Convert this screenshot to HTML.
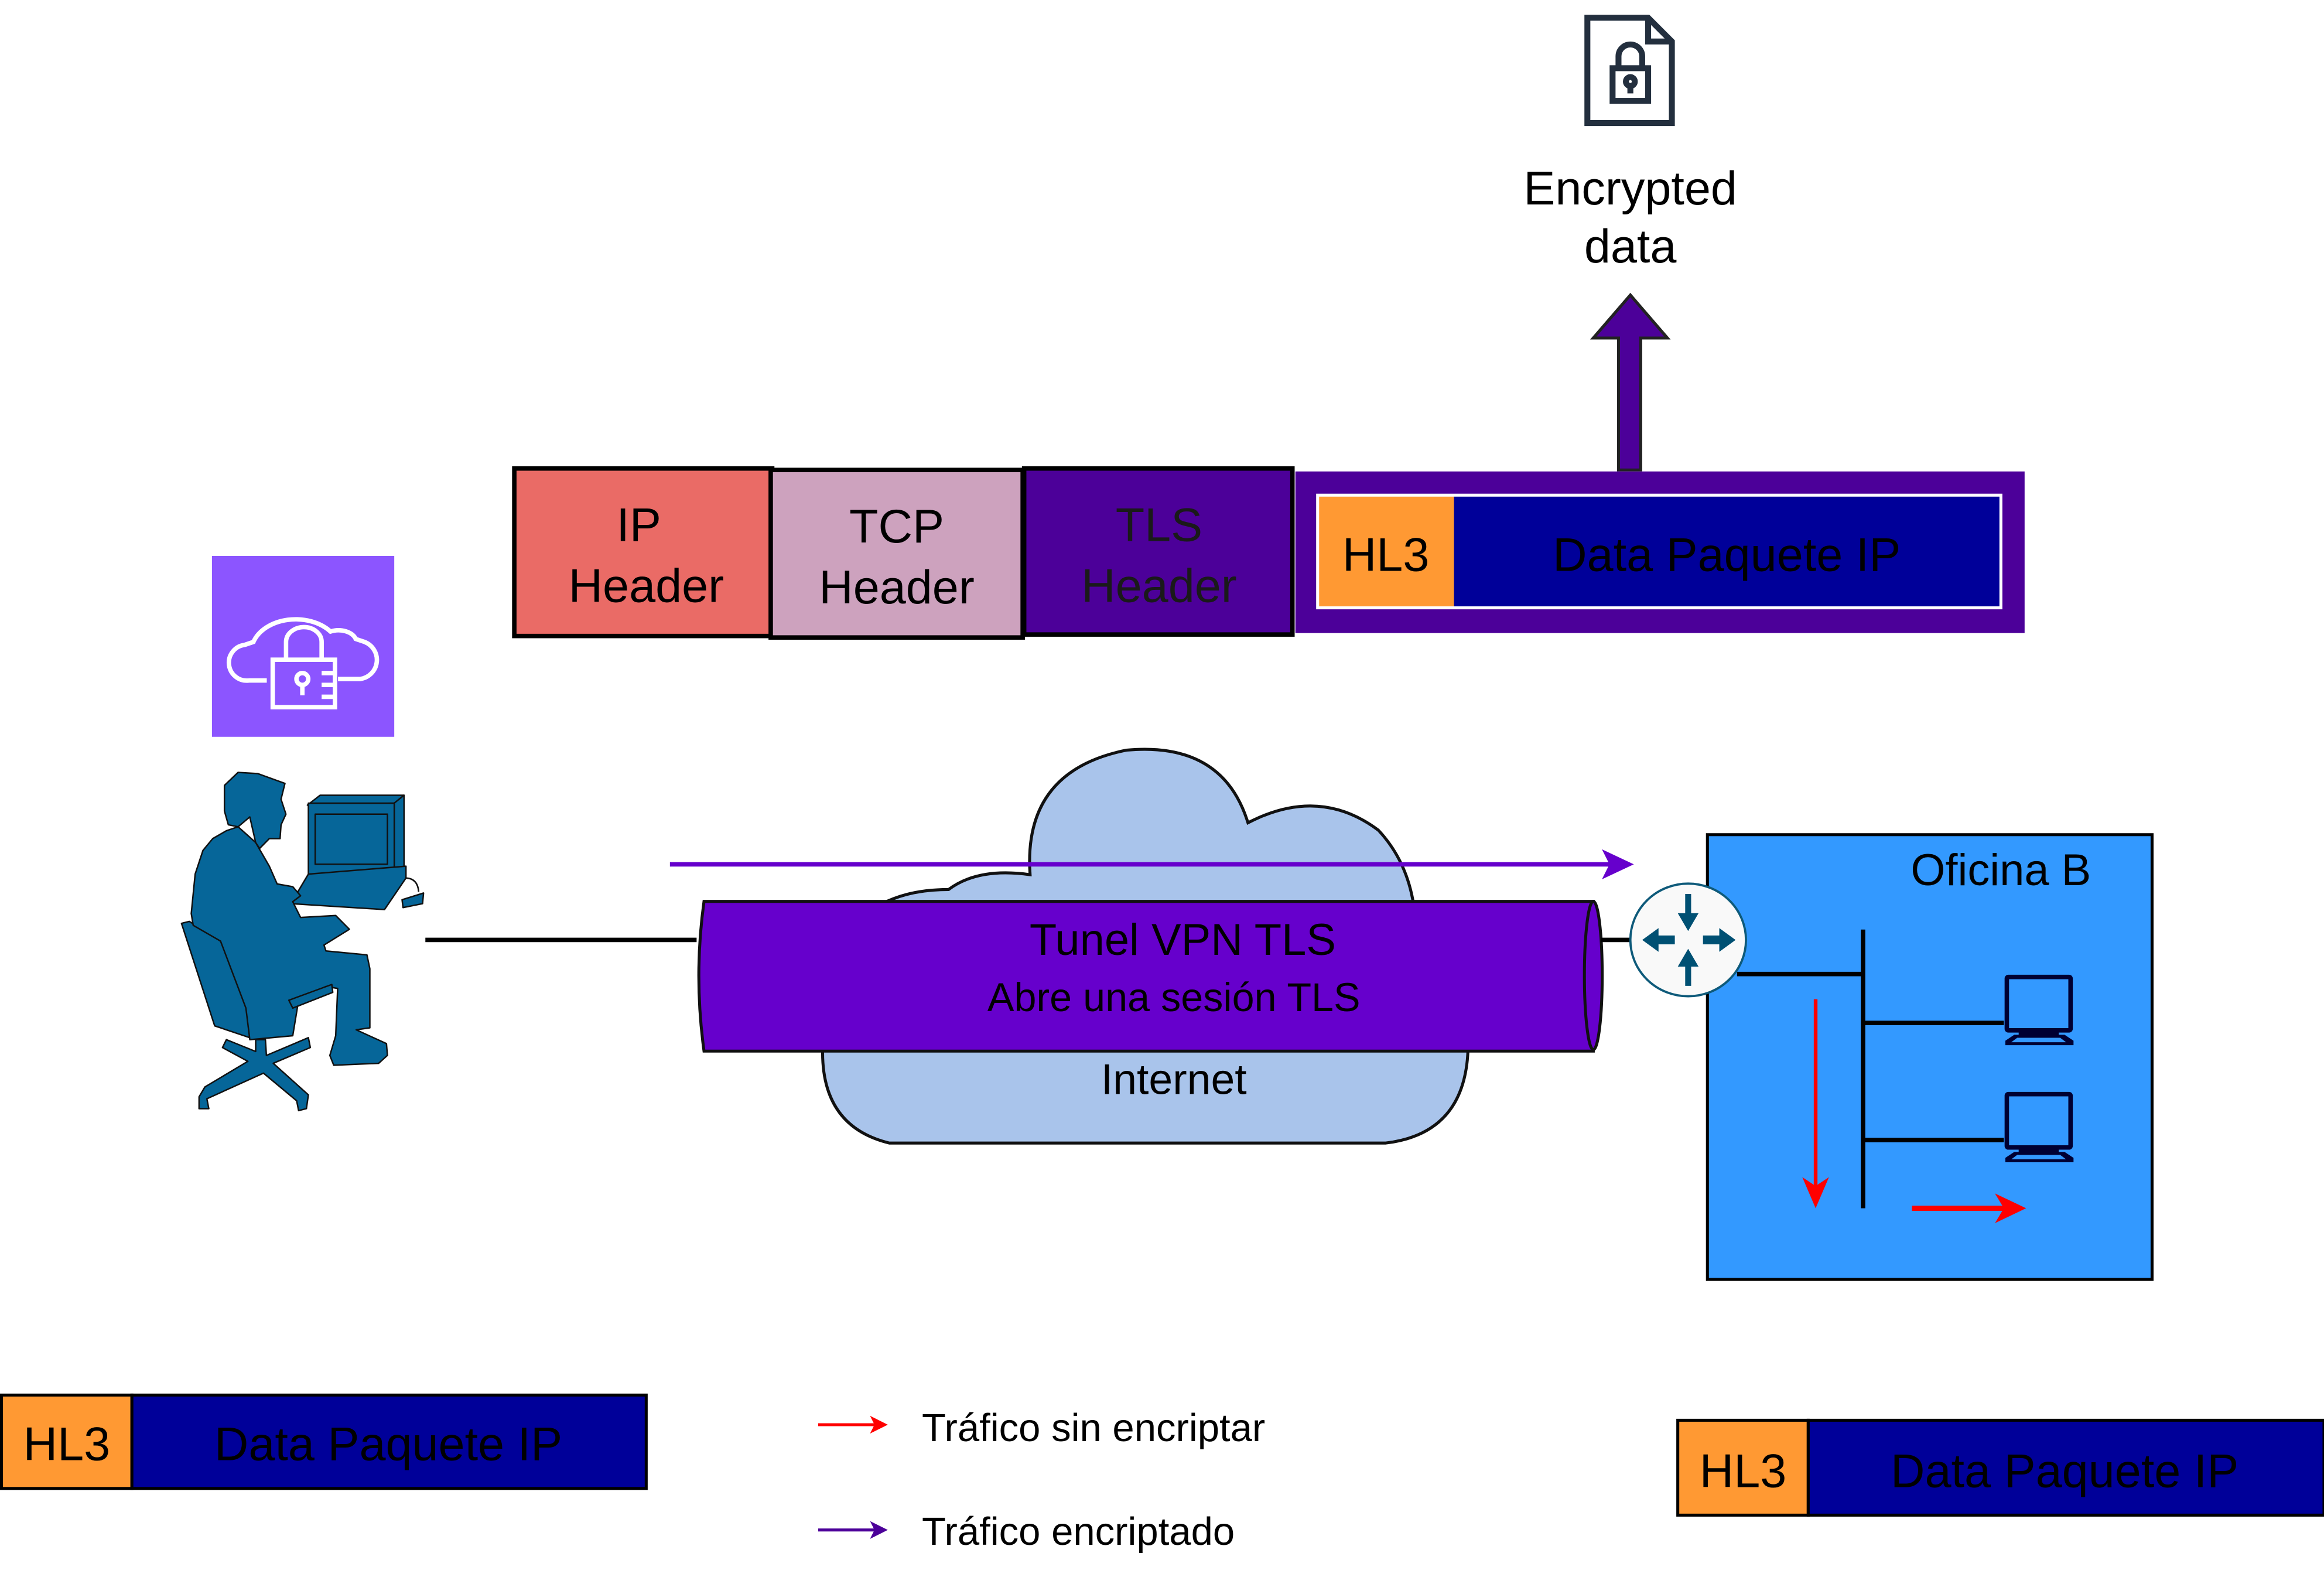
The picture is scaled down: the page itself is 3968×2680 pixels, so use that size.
<!DOCTYPE html>
<html><head><meta charset="utf-8"><style>
html,body{margin:0;padding:0;background:#fff;}
svg{display:block;}
text{font-family:"Liberation Sans",sans-serif;}
</style></head><body>
<svg width="3968" height="2680" viewBox="0 0 1568 1059" preserveAspectRatio="none" xmlns="http://www.w3.org/2000/svg">
<rect width="1568" height="1059" fill="#fff"/>
<!-- doc icon -->
<g fill="none" stroke="#232F3E" stroke-width="4">
<path d="M1071,12 L1112,12 L1128,28 L1128,83 L1071,83 Z"/>
<path d="M1112,12 L1112,28 L1128,28"/>
<rect x="1088" y="46" width="24" height="22"/>
<path d="M1092,46 V38 a8,8 0 0 1 16,0 V46"/>
<circle cx="1100" cy="55" r="3"/><path d="M1100,58 V63"/>
</g>
<text x="1100" y="138" font-size="32" text-anchor="middle">Encrypted</text>
<text x="1100" y="177" font-size="32" text-anchor="middle">data</text>
<!-- up arrow -->
<path d="M1092,317 L1092,228 L1075,228 L1100,199 L1125,228 L1107,228 L1107,317 Z" fill="#4C0099" stroke="#222" stroke-width="2"/>
<!-- headers -->
<rect x="347" y="316" width="174" height="113" fill="#EA6B66" stroke="#000" stroke-width="3"/>
<text x="431" y="365" font-size="32" text-anchor="middle">IP</text>
<text x="436" y="406" font-size="32" text-anchor="middle">Header</text>
<rect x="520" y="317" width="170" height="113" fill="#CDA2BE" stroke="#000" stroke-width="3"/>
<text x="605" y="366" font-size="32" text-anchor="middle">TCP</text>
<text x="605" y="407" font-size="32" text-anchor="middle">Header</text>
<rect x="691" y="316" width="181" height="112" fill="#4C0099" stroke="#000" stroke-width="3"/>
<text x="782" y="365" font-size="32" text-anchor="middle" fill="#1a1a1a">TLS</text>
<text x="782" y="406" font-size="32" text-anchor="middle" fill="#1a1a1a">Header</text>
<rect x="874" y="318" width="492" height="109" fill="#4C0099"/>
<rect x="888" y="333" width="463" height="78" fill="#fff"/>
<rect x="890" y="335" width="91" height="74" fill="#FF9933"/>
<rect x="981" y="335" width="368" height="74" fill="#000099"/>
<text x="935" y="385" font-size="32" text-anchor="middle">HL3</text>
<text x="1165" y="385" font-size="32" text-anchor="middle" fill="#000">Data Paquete IP</text>
<!-- aws icon -->
<rect x="143" y="375" width="123" height="122" fill="#8C55FF"/>
<g fill="none" stroke="#fff" stroke-width="3">
<path d="M180,459 H168 a12,12 0 0 1 -3,-24 l6,-2 a30,22 0 0 1 52,-7 a12,8 0 0 1 17,5 l6,2 a13,13 0 0 1 -3,25 H228"/>
<rect x="184" y="445" width="42" height="32"/>
<path d="M193,445 V433 a12,10 0 0 1 24,0 V445"/>
<circle cx="204" cy="458" r="4"/><path d="M204,462 V469"/>
<path d="M217,454 H226 M217,462 H226 M217,470 H226"/>
</g>
<!-- person -->
<g transform="translate(110.6,355.6) scale(0.1317,0.2659)" fill="#066699" stroke="#111" stroke-width="2.5" stroke-linejoin="round">
<path vector-effect="non-scaling-stroke" d="M735,705 L800,680 L1230,680 L1180,700 Z"/>
<path vector-effect="non-scaling-stroke" d="M1180,700 L1230,680 L1230,860 L1180,875 Z"/>
<rect vector-effect="non-scaling-stroke" x="740" y="700" width="440" height="180"/>
<rect vector-effect="non-scaling-stroke" x="775" y="728" width="370" height="127"/>
<path vector-effect="non-scaling-stroke" d="M650,955 L740,880 L1240,860 L1240,890 L1130,970 Z"/>
<path vector-effect="non-scaling-stroke" d="M1220,945 L1330,928 L1325,955 L1225,965 Z"/>
<path vector-effect="non-scaling-stroke" d="M1235,890 Q1300,890 1305,925" fill="none"/>
<path vector-effect="non-scaling-stroke" d="M90,1005 L130,1000 L290,1050 L440,1220 L440,1295 L260,1265 Z"/>
<path vector-effect="non-scaling-stroke" d="M320,770 L380,760 L470,800 L540,860 L580,905 L660,912 L700,935 L660,950 L700,990 L880,985 L950,1020 L820,1060 L830,1075 L1040,1085 L1055,1120 L1055,1270 L985,1275 L1140,1310 L1145,1340 L1100,1360 L870,1365 L850,1340 L880,1290 L890,1170 L830,1165 L690,1200 L660,1290 L440,1300 L420,1220 L290,1050 L150,1010 L140,980 L160,880 L200,820 L250,790 Z"/>
<path vector-effect="non-scaling-stroke" d="M310,655 L380,622 L480,625 L620,650 L600,690 L625,728 L600,755 L595,790 L540,790 L490,815 L470,800 L440,735 L380,760 L330,755 L310,720 Z"/>
<path vector-effect="non-scaling-stroke" d="M470,1300 L520,1300 L525,1340 L740,1295 L750,1320 L560,1360 L740,1440 L730,1475 L690,1480 L680,1455 L510,1385 L220,1450 L230,1475 L180,1475 L180,1445 L210,1420 L430,1355 L300,1320 L320,1300 L470,1330 Z"/>
<path vector-effect="non-scaling-stroke" d="M640,1200 L860,1160 L865,1180 L660,1220 Z"/>
</g>
<line x1="287" y1="634" x2="470" y2="634" stroke="#000" stroke-width="3"/>
<!-- cloud -->
<path d="M600,771 Q555,760 555,710 L560,650 Q580,600 640,600 Q660,585 695,590 Q690,520 760,506 Q825,500 842,555 Q890,530 930,560 Q958,590 955,640 Q995,660 990,715 Q985,765 935,771 Z" fill="#A9C4EB" stroke="#111" stroke-width="2"/>
<!-- tunnel -->
<path d="M475,608 L1075,608 L1075,709 L475,709 Q468,658 475,608 Z" fill="#6600CC" stroke="#111" stroke-width="2"/>
<ellipse cx="1075" cy="658" rx="6" ry="50" fill="#6600CC" stroke="#111" stroke-width="2"/>
<text x="798" y="644" font-size="30" text-anchor="middle">Tunel VPN TLS</text>
<text x="792" y="682" font-size="27" text-anchor="middle">Abre una sesión TLS</text>
<text x="792" y="738" font-size="29" text-anchor="middle">Internet</text>
<line x1="452" y1="583" x2="1090" y2="583" stroke="#6600CC" stroke-width="3"/>
<path d="M1100,583 L1083,575 L1087,583 L1083,591 Z" fill="#6600CC" stroke="#6600CC" stroke-width="2"/>
<!-- oficina -->
<rect x="1152" y="563" width="300" height="300" fill="#3399FF" stroke="#000" stroke-width="2"/>
<text x="1350" y="597" font-size="30" text-anchor="middle">Oficina B</text>
<line x1="1080" y1="634" x2="1102" y2="634" stroke="#000" stroke-width="3"/>
<ellipse cx="1139" cy="634" rx="39" ry="38" fill="#F9F9F9" stroke="#0e5a7a" stroke-width="1.5"/>
<g fill="#005073">
<path d="M1137,603 h4 v13 h5 l-7,12 l-7,-12 h5 Z"/>
<path d="M1137,665 h4 v-13 h5 l-7,-12 l-7,12 h5 Z"/>
<path d="M1108,634 l11,-8 v5 h11 v6 h-11 v5 Z"/>
<path d="M1171,634 l-11,-8 v5 h-11 v6 h11 v5 Z"/>
</g>
<g stroke="#000" stroke-width="3" fill="none">
<path d="M1172,657 H1257"/>
<path d="M1257,627 V815"/>
<path d="M1257,690 H1352"/>
<path d="M1257,769 H1352"/>
</g>
<g fill="none" stroke="#000033" stroke-width="3">
<rect x="1354" y="659" width="43" height="36" rx="1"/>
<rect x="1354" y="738" width="43" height="36" rx="1"/>
</g>
<g fill="#000033">
<rect x="1362" y="695" width="27" height="5"/>
<path d="M1353,705 h46 v-3 l-6,-4 h-34 l-6,4 Z M1357,703 l4,-3 h29 l4,3 Z" fill-rule="evenodd"/>
<rect x="1362" y="774" width="27" height="5"/>
<path d="M1353,784 h46 v-3 l-6,-4 h-34 l-6,4 Z M1357,782 l4,-3 h29 l4,3 Z" fill-rule="evenodd"/>
</g>
<line x1="1225" y1="674" x2="1225" y2="800" stroke="#f00" stroke-width="2.5"/>
<path d="M1225,815 L1216,794 L1225,800 L1234,794 Z" fill="#f00"/>
<line x1="1290" y1="815" x2="1352" y2="815" stroke="#f00" stroke-width="3.5"/>
<path d="M1367,815 L1346,805 L1352,815 L1346,825 Z" fill="#f00"/>
<!-- bottom packets -->
<rect x="1" y="941" width="88" height="63" fill="#FF9933" stroke="#000" stroke-width="2"/>
<rect x="89" y="941" width="347" height="63" fill="#000099" stroke="#000" stroke-width="2"/>
<text x="45" y="985" font-size="32" text-anchor="middle">HL3</text>
<text x="262" y="985" font-size="32" text-anchor="middle">Data Paquete IP</text>
<rect x="1132" y="958" width="88" height="64" fill="#FF9933" stroke="#000" stroke-width="2"/>
<rect x="1220" y="958" width="348" height="64" fill="#000099" stroke="#000" stroke-width="2"/>
<text x="1176" y="1003" font-size="32" text-anchor="middle">HL3</text>
<text x="1393" y="1003" font-size="32" text-anchor="middle">Data Paquete IP</text>
<!-- legend -->
<line x1="552" y1="961" x2="590" y2="961" stroke="#f00" stroke-width="2"/>
<path d="M599,961 L587,955 L590,961 L587,967 Z" fill="#f00"/>
<text x="622" y="972" font-size="26.5">Tráfico sin encriptar</text>
<line x1="552" y1="1032" x2="590" y2="1032" stroke="#4C0099" stroke-width="2"/>
<path d="M599,1032 L587,1026 L590,1032 L587,1038 Z" fill="#4C0099"/>
<text x="622" y="1042" font-size="26.5">Tráfico encriptado</text>
</svg>
</body></html>
